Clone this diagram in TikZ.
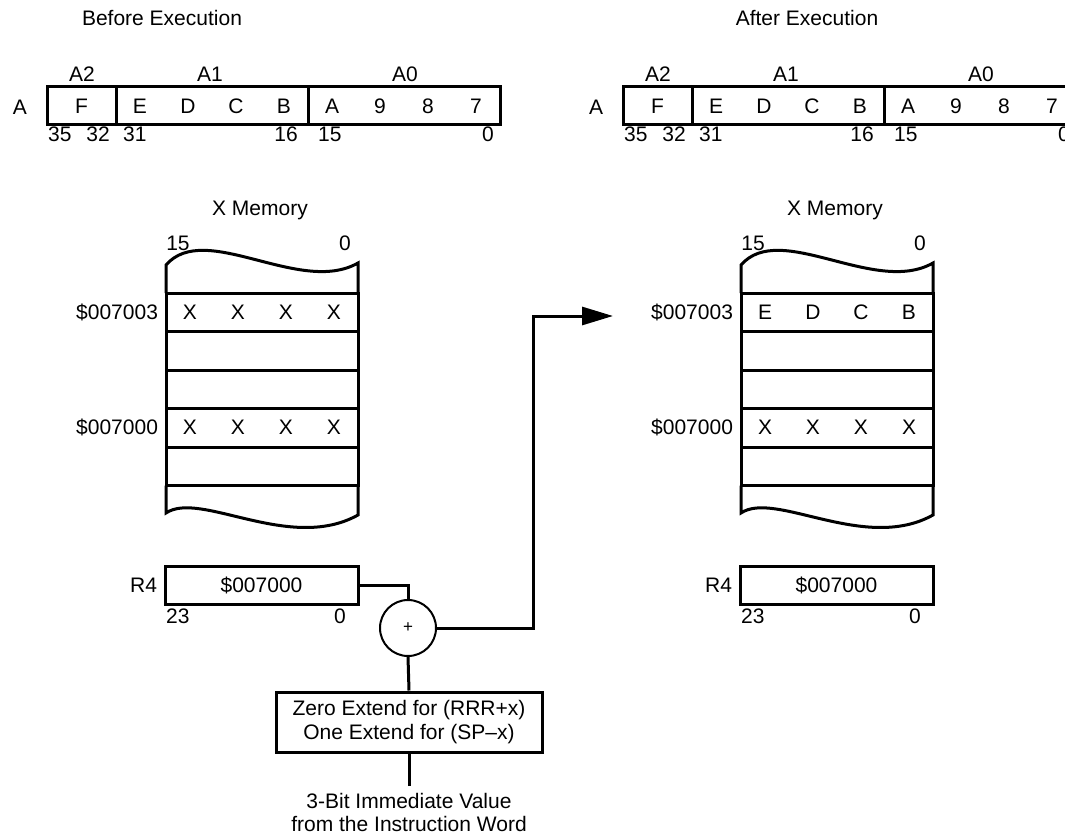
\documentclass[tikz,border=0pt]{standalone}
\usepackage{fontspec}
\setmainfont{Liberation Sans}
\usetikzlibrary{arrows.meta,calc,positioning}
\newcommand{\cell}[1]{\makebox[48pt]{#1}}

\begin{document}
\begin{tikzpicture}[
  x=1pt, y=-1pt,
  font=\fontsize{21}{24}\selectfont,
  >={Triangle[length=31pt,width=18pt]},
  field/.style={draw, line width=3pt, minimum height=38pt, inner sep=0pt},
  row/.style={draw, line width=3pt, minimum width=192pt, minimum height=38.5pt,
    inner sep=0pt},
  wire/.style={line width=3pt},
  flow/.style={wire, ->},
  num/.style={inner sep=0pt}
]
\useasboundingbox (0,0) rectangle (1065,834);
\clip (0,0) rectangle (1065,834);

% Titles
\node (before) at (162,18) {Before Execution};
\node (after) at (807,18) {After Execution};

% Accumulator A, before
\node (accL) at (20,107) {A};
\node[field, minimum width=69pt] (a2L) at (81.5,106) {F};
\node[field, minimum width=192pt] (a1L) at (212,106) {\cell{E}\cell{D}\cell{C}\cell{B}};
\node[field, minimum width=192pt] (a0L) at (404,106) {\cell{A}\cell{9}\cell{8}\cell{7}};
\node (a2tL) at (82,74) {A2};
\node (a1tL) at (210,74) {A1};
\node (a0tL) at (405,74) {A0};
\node[num, anchor=north west] at (48,127) {35};
\node[num, anchor=north east] at (110,127) {32};
\node[num, anchor=north west] at (123,127) {31};
\node[num, anchor=north east] at (298,127) {16};
\node[num, anchor=north west] at (318,127) {15};
\node[num, anchor=north east] at (494,127) {0};

% Accumulator A, after
\node (accR) at (596,107) {A};
\node[field, minimum width=69pt] (a2R) at (657.5,106) {F};
\node[field, minimum width=192pt] (a1R) at (788,106) {\cell{E}\cell{D}\cell{C}\cell{B}};
\node[field, minimum width=192pt] (a0R) at (980,106) {\cell{A}\cell{9}\cell{8}\cell{7}};
\node (a2tR) at (658,74) {A2};
\node (a1tR) at (786,74) {A1};
\node (a0tR) at (981,74) {A0};
\node[num, anchor=north west] at (624,127) {35};
\node[num, anchor=north east] at (686,127) {32};
\node[num, anchor=north west] at (699,127) {31};
\node[num, anchor=north east] at (874,127) {16};
\node[num, anchor=north west] at (894,127) {15};
\node[num, anchor=north east] at (1070,127) {0};

% X memory, before
\node (xmemL) at (260,210) {X Memory};
\node (m15L) at (178,243) {15};
\node (m0bL) at (345,243) {0};
\draw[wire] (166,293) -- (166,265) .. controls (205,220) and (300,296) .. (358,263) -- (358,293);
\node[row] (m3L) at (262,312.25) {\cell{X}\cell{X}\cell{X}\cell{X}};
\node[row] (m2L) at (262,350.75) {};
\node[row] (m1L) at (262,389.25) {};
\node[row] (m0L) at (262,427.75) {\cell{X}\cell{X}\cell{X}\cell{X}};
\node[row] (mbL) at (262,466.25) {};
\draw[wire] (166,485.5) -- (166,513) .. controls (200,490) and (290,553) .. (358,515) -- (358,485.5);
\node[left=3pt of m3L] (ad3L) {\$007003};
\node[left=3pt of m0L] (ad0L) {\$007000};

% X memory, after
\node (xmemR) at (835,210) {X Memory};
\node (m15R) at (753,243) {15};
\node (m0bR) at (920,243) {0};
\draw[wire] (741,293) -- (741,265) .. controls (780,220) and (875,296) .. (933,263) -- (933,293);
\node[row] (m3R) at (837,312.25) {\cell{E}\cell{D}\cell{C}\cell{B}};
\node[row] (m2R) at (837,350.75) {};
\node[row] (m1R) at (837,389.25) {};
\node[row] (m0R) at (837,427.75) {\cell{X}\cell{X}\cell{X}\cell{X}};
\node[row] (mbR) at (837,466.25) {};
\draw[wire] (741,485.5) -- (741,513) .. controls (775,490) and (865,553) .. (933,515) -- (933,485.5);
\node[left=3pt of m3R] (ad3R) {\$007003};
\node[left=3pt of m0R] (ad0R) {\$007000};

% Address register R4
\node[field, minimum width=193pt] (r4L) at (261.5,585) {\$007000};
\node[left=3pt of r4L] (r4tL) {R4};
\node[num, anchor=north west] at (166,609) {23};
\node[num, anchor=north east] at (346,609) {0};
\node[field, minimum width=193pt] (r4R) at (836.5,585) {\$007000};
\node[left=3pt of r4R] (r4tR) {R4};
\node[num, anchor=north west] at (741,609) {23};
\node[num, anchor=north east] at (921,609) {0};

% Address calculation
\node[draw, circle, line width=2pt, minimum size=56pt, inner sep=0pt,
  font=\fontsize{17}{19}\selectfont] (add) at (408,628) {+};
\node[field, minimum width=266pt, minimum height=60pt, align=center] (ext) at (409,722)
  {Zero Extend for (RRR+x)\\One Extend for (SP--x)};
\node[anchor=north, inner xsep=0pt, inner ysep=7pt, align=center,
  font=\fontsize{21}{23}\selectfont] (imm) at (409,786)
  {3-Bit Immediate Value\\from the Instruction Word};
\coordinate (bend) at (533,316);
\coordinate (tip) at (613,316);

\draw[wire] (r4L.east) -| (add.north);
\draw[wire] (ext.north) -- (add.south);
\draw[wire] (imm.north) -- (ext.south);
\draw[flow] (add.east) -| (bend) -- (tip);
\end{tikzpicture}
\end{document}
